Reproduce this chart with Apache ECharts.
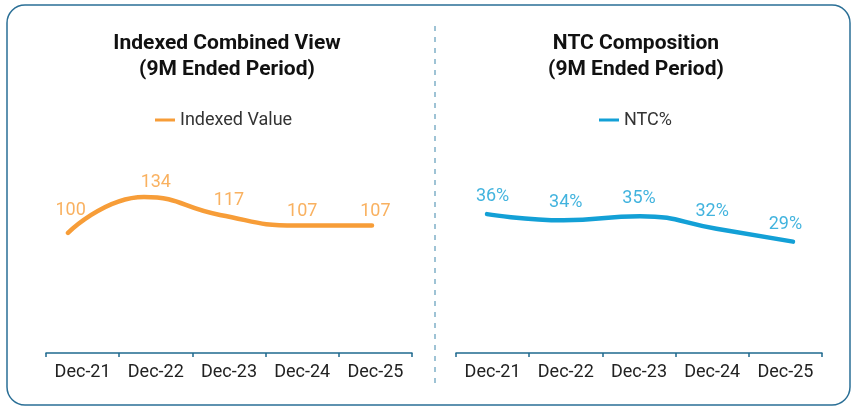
<!DOCTYPE html>
<html>
<head>
<meta charset="utf-8">
<script src="https://cdn.jsdelivr.net/npm/echarts@6/dist/echarts.min.js"></script>
<style>
  html, body { margin: 0; padding: 0; background: #fff; }
  #chart { width: 853px; height: 408px; }
</style>
</head>
<body>
<div id="chart"></div>
<script>
const categories = ['Dec-21', 'Dec-22', 'Dec-23', 'Dec-24', 'Dec-25'];
const indexedValues = [100, 134, 117, 107, 107];
const ntcValues = [35.9, 34.4, 35.4, 32.4, 29.3];

const orange = '#f79d38';
const blue = '#13a0d6';
const axisColor = '#1f6a8f';
const font = 'Roboto';

const chart = echarts.init(document.getElementById('chart'));

function catAxis(grid) {
  return {
    type: 'category', gridIndex: grid, data: categories, boundaryGap: true,
    axisLine: { onZero: false, lineStyle: { color: axisColor, width: 1.5 } },
    axisTick: { show: true, length: 4, lineStyle: { color: axisColor, width: 1.5 } },
    axisLabel: { color: '#222', fontSize: 18, fontFamily: font, margin: 10 },
    splitLine: { show: false }
  };
}
function lineAxis(grid) {
  return { type: 'category', gridIndex: grid, data: categories, boundaryGap: false, show: false };
}
function yAx(grid, min, max) {
  return { type: 'value', gridIndex: grid, min: min, max: max, show: false, splitLine: { show: false } };
}

const titleStyle = { fontSize: 21, fontWeight: 'bold', fontFamily: font, color: '#111', lineHeight: 26 };
const legendText = { fontSize: 18, fontFamily: font, color: '#333' };

const option = {
  animation: false,
  title: [
    { text: 'Indexed Combined View\n(9M Ended Period)', left: 227, top: 31, padding: 0,
      textAlign: 'center', textStyle: titleStyle },
    { text: 'NTC Composition\n(9M Ended Period)', left: 636, top: 31, padding: 0,
      textAlign: 'center', textStyle: titleStyle }
  ],
  legend: [
    { data: ['Indexed Value'], left: 155, top: 111, padding: 0, icon: 'rect',
      itemWidth: 20, itemHeight: 3, textStyle: legendText },
    { data: ['NTC%'], left: 599, top: 111, padding: 0, icon: 'rect',
      itemWidth: 20, itemHeight: 3, textStyle: legendText }
  ],
  grid: [
    { left: 46, width: 366, top: 180, bottom: 55 },
    { left: 68, width: 304, top: 180, bottom: 55 },
    { left: 456, width: 366, top: 197, bottom: 55 },
    { left: 487, width: 306, top: 197, bottom: 55 }
  ],
  xAxis: [catAxis(0), lineAxis(1), catAxis(2), lineAxis(3)],
  yAxis: [yAx(0, -13.4, 150), yAx(1, -13.4, 150), yAx(2, 2.6, 40), yAx(3, 2.6, 40)],
  series: [
    { name: 'Indexed Value', type: 'line', xAxisIndex: 1, yAxisIndex: 1, data: indexedValues,
      smooth: true, symbol: 'none', color: orange, lineStyle: { width: 4.5, color: orange, cap: 'round' } },
    { type: 'scatter', xAxisIndex: 0, yAxisIndex: 0, data: indexedValues, symbolSize: 1,
      itemStyle: { color: 'rgba(0,0,0,0)' }, silent: true,
      label: { show: true, position: 'top', distance: 5, color: orange, fontSize: 18, fontFamily: font },
      labelLayout: p => (p.dataIndex === 0 ? { dx: -12, dy: -8 } : {}) },
    { name: 'NTC%', type: 'line', xAxisIndex: 3, yAxisIndex: 3, data: ntcValues,
      smooth: true, symbol: 'none', color: blue, lineStyle: { width: 4.5, color: blue, cap: 'round' } },
    { type: 'scatter', xAxisIndex: 2, yAxisIndex: 2, data: ntcValues, symbolSize: 1,
      itemStyle: { color: 'rgba(0,0,0,0)' }, silent: true,
      label: { show: true, position: 'top', distance: 8, color: blue, fontSize: 18, fontFamily: font,
        formatter: p => Math.round(p.value) + '%' } }
  ],
  graphic: [
    { type: 'rect', shape: { x: 7, y: 5, width: 843, height: 400, r: 18 },
      style: { fill: null, stroke: '#2a6f96', lineWidth: 1.5 }, silent: true },
    { type: 'line', shape: { x1: 435, y1: 26, x2: 435, y2: 386 },
      style: { stroke: '#7fb0c8', lineWidth: 1.5, lineDash: [5, 6] }, silent: true }
  ]
};

chart.setOption(option);
</script>
</body>
</html>
